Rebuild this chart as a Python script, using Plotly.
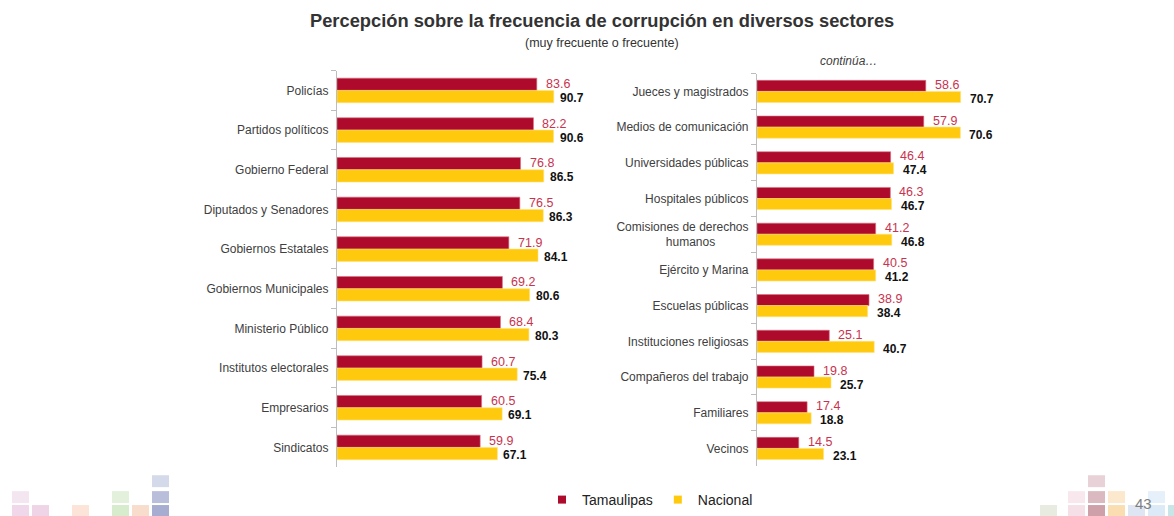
import plotly.graph_objects as go
from plotly.subplots import make_subplots

W, H = 1174, 516

left_cats = ["Policías", "Partidos políticos", "Gobierno Federal", "Diputados y Senadores",
             "Gobiernos Estatales", "Gobiernos Municipales", "Ministerio Público",
             "Institutos electorales", "Empresarios", "Sindicatos"]
left_tam = [83.6, 82.2, 76.8, 76.5, 71.9, 69.2, 68.4, 60.7, 60.5, 59.9]
left_nac = [90.7, 90.6, 86.5, 86.3, 84.1, 80.6, 80.3, 75.4, 69.1, 67.1]

right_cats = ["Jueces y magistrados", "Medios de comunicación", "Universidades públicas",
              "Hospitales públicos", "Comisiones de derechos<br>humanos\u00a0\u00a0\u00a0\u00a0\u00a0\u00a0\u00a0\u00a0\u00a0\u00a0",
              "Ejército y Marina", "Escuelas públicas", "Instituciones religiosas",
              "Compañeros del trabajo", "Familiares", "Vecinos"]
right_tam = [58.6, 57.9, 46.4, 46.3, 41.2, 40.5, 38.9, 25.1, 19.8, 17.4, 14.5]
right_nac = [70.7, 70.6, 47.4, 46.7, 46.8, 41.2, 38.4, 40.7, 25.7, 18.8, 23.1]

series_names = ["Tamaulipas", "Nacional"]
RED = "#AE0A2C"
YEL = "#FFC90D"
RED_TXT = "#C8334F"
BODY = "Liberation Sans, Arial, sans-serif"

fig = make_subplots(rows=1, cols=2)

def add_panel(col, cats, tam, nac):
    fig.add_trace(go.Bar(y=cats, x=tam, orientation="h", name=series_names[0],
                         marker=dict(color=RED, line=dict(color="#D9707F", width=0.6)),
                         showlegend=False), row=1, col=col)
    fig.add_trace(go.Bar(y=cats, x=nac, orientation="h", name=series_names[1],
                         marker=dict(color=YEL, line=dict(color="#FFE37A", width=0.6)),
                         showlegend=False), row=1, col=col)

add_panel(1, left_cats, left_tam, left_nac)
add_panel(2, right_cats, right_tam, right_nac)

# legend entries (small square keys)
for nm, c in zip(series_names, [RED, YEL]):
    fig.add_trace(go.Scatter(x=[None], y=[None], mode="markers", name=nm,
                             marker=dict(symbol="square", size=8, color=c), showlegend=True),
                  row=1, col=1)

def px_x(p):
    return p / W

def px_y(p):
    return 1 - p / H

fig.update_layout(
    xaxis=dict(domain=[px_x(337), px_x(337 + 239)], range=[0, 100], visible=False),
    xaxis2=dict(domain=[px_x(757), px_x(757 + 288)], range=[0, 100], visible=False),
    yaxis=dict(domain=[px_y(470), px_y(71)]),
    yaxis2=dict(domain=[px_y(469), px_y(74)]),
)
for ax in ["yaxis", "yaxis2"]:
    fig.layout[ax].update(autorange="reversed", showline=True, linecolor="#BDBDBD", linewidth=1.2,
                          ticks="outside", ticklen=5, tickcolor="#BDBDBD", tickson="boundaries",
                          tickfont=dict(family=BODY, size=12, color="#404040"),
                          showgrid=False, zeroline=False, ticklabelstandoff=5)

annotations = []
def add_labels(xref, yref, cats, tam, nac, nshift):
    for c, t, n in zip(cats, tam, nac):
        annotations.append(dict(x=t, y=c, xref=xref, yref=yref, text=f"{t:.1f}", showarrow=False,
                                xanchor="left", yanchor="middle", xshift=7, yshift=6.5,
                                font=dict(family=BODY, size=12.5, color=RED_TXT)))
        annotations.append(dict(x=n, y=c, xref=xref, yref=yref, text=f"<b>{n:.1f}</b>", showarrow=False,
                                xanchor="left", yanchor="middle", xshift=nshift, yshift=-7.5,
                                font=dict(family=BODY, size=12, color="#111111")))

add_labels("x", "y", left_cats, left_tam, left_nac, 4)
add_labels("x2", "y2", right_cats, right_tam, right_nac, 7)

annotations += [
    dict(x=px_x(602), y=px_y(21), xref="paper", yref="paper", showarrow=False,
         text="<b>Percepción sobre la frecuencia de corrupción en diversos sectores</b>",
         font=dict(family=BODY, size=18.3, color="#333333"), xanchor="center", yanchor="middle"),
    dict(x=px_x(602), y=px_y(43), xref="paper", yref="paper", showarrow=False,
         text="(muy frecuente o frecuente)",
         font=dict(family=BODY, size=12.5, color="#333333"), xanchor="center", yanchor="middle"),
    dict(x=px_x(848), y=px_y(61), xref="paper", yref="paper", showarrow=False,
         text="<i>continúa…</i>",
         font=dict(family=BODY, size=12, color="#404040"), xanchor="center", yanchor="middle"),
    dict(x=px_x(1143), y=px_y(506), xref="paper", yref="paper", showarrow=False,
         text="43", font=dict(family=BODY, size=15, color="#7F7F7F"), xanchor="center", yanchor="middle"),
]

# decorative squares (page ornament)
sq = [
    (12, 494, "#F4E6F0"), (12, 508, "#F0D7E9"), (32, 508, "#EFD4E8"), (72, 508, "#FCE5D8"),
    (112, 494, "#E3F1DC"), (112, 508, "#D6ECCD"), (132, 508, "#F8DDCD"),
    (152, 478, "#D5DAEA"), (152, 494, "#B9BFDB"), (152, 508, "#A6ADD1"),
    (1040, 508, "#E8EBE0"),
    (1068, 494, "#F8E8EE"), (1068, 508, "#F6E0E8"),
    (1088, 478, "#E8D2D7"), (1088, 494, "#DBB9C0"), (1088, 508, "#CDA0AA"),
    (1108, 494, "#FCE8CC"), (1108, 508, "#FBDDB2"),
    (1128, 508, "#DEE6F3"), (1148, 494, "#E6F0FA"), (1148, 508, "#DCEAF7"),
    (1168, 508, "#C8E5E7"),
]
shapes = []
for x0, y0, c in sq:
    shapes.append(dict(type="rect", xref="paper", yref="paper", layer="below",
                       x0=px_x(x0), x1=px_x(x0 + 17), y0=px_y(y0 + 12), y1=px_y(y0),
                       fillcolor=c, line=dict(width=0)))

fig.update_layout(
    width=W, height=H, margin=dict(l=0, r=0, t=0, b=0),
    paper_bgcolor="white", plot_bgcolor="white",
    barmode="group", bargap=0.38, bargroupgap=0,
    annotations=annotations, shapes=shapes,
    showlegend=True,
    legend=dict(orientation="h", x=px_x(542), y=px_y(503), xanchor="left", yanchor="middle",
                font=dict(family=BODY, size=14, color="#222222"), itemwidth=30,
                bgcolor="rgba(0,0,0,0)", traceorder="normal"),
)

fig.write_html("out.html")
